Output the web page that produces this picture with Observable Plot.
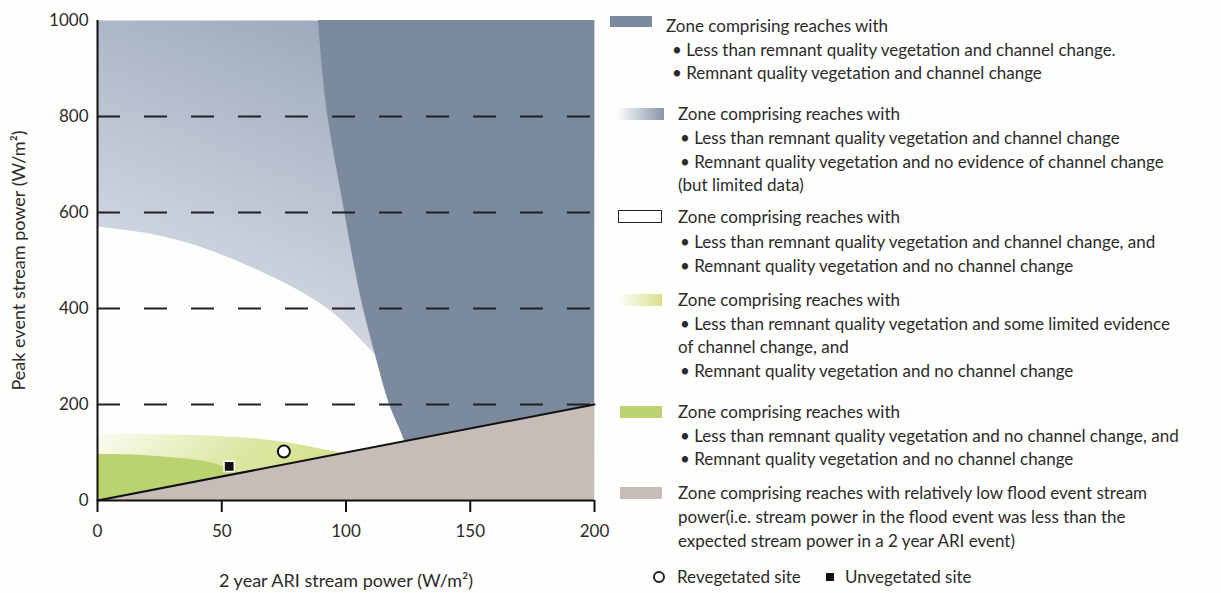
<!DOCTYPE html>
<html>
<head>
<meta charset="utf-8">
<script src="https://cdn.jsdelivr.net/npm/d3@7"></script>
<script src="https://cdn.jsdelivr.net/npm/@observablehq/plot@0.6"></script>
<style>
  html, body { margin: 0; padding: 0; background: #fefefc; }
  #wrap { position: relative; width: 1221px; height: 593px; font-family: Lato, "Open Sans", sans-serif; color: #2b2b2b; }
  #chart { position: absolute; left: 0; top: 0; }
  .lg { position: absolute; font-size: 17px; line-height: 20px; white-space: nowrap; }
  .sw { position: absolute; }
</style>
</head>
<body>
<div id="wrap"><div id="chart"></div><div id="legend"></div></div>
<script>
// ---- data ----
const xTicks = [0, 50, 100, 150, 200];
const yTicks = [0, 200, 400, 600, 800, 1000];
const gridY = [200, 400, 600, 800];
// expected line (peak = 2-year ARI)
const diagX = [0, 200];
const diagY = [0, 200];
// dark zone left boundary: x as a function of y
const darkY = [0, 60, 125, 200, 300, 400, 500, 600, 700, 800, 900, 1000];
const darkX = [131, 127, 123.5, 117.5, 112, 107, 103, 99.5, 96, 92.7, 90.5, 89];
// white zone upper boundary
const whiteX = [0, 20, 40, 60, 80, 95, 105, 115, 125];
const whiteY = [570, 556, 530, 490, 440, 390, 340, 285, 225];
// light yellow-green zone upper boundary
const yellowX = [0, 25, 50, 62, 78, 90, 98, 110];
const yellowY = [138, 137, 133, 129, 119, 107, 99, 88];
// green zone upper boundary
const greenX = [0, 15, 30, 44, 52, 58, 64];
const greenY = [96, 95, 89, 80, 68, 55, 44];
// sites
const revegX = [75], revegY = [102];
const unvegX = [53], unvegY = [71];

const colDark = "#7b8a9c";
const colGreen = "#bad36f";
const colLow = "#c6bcb8";

const darkData = darkY.map((y, i) => ({y, x1: darkX[i], x2: 200}));
const whiteData = whiteX.map((x, i) => ({x, y: whiteY[i]}));
const yellowData = yellowX.map((x, i) => ({x, y: yellowY[i]}));
const greenData = greenX.map((x, i) => ({x, y: greenY[i]}));
const diagData = diagX.map((x, i) => ({x, y: diagY[i]}));

const defsMark = () => {
  const g = d3.create("svg:g");
  const defs = g.append("defs");
  const gb = defs.append("linearGradient").attr("id", "gBlue")
    .attr("x1", 0.15).attr("y1", 0.8).attr("x2", 0.5).attr("y2", 0);
  gb.append("stop").attr("offset", 0).attr("stop-color", "#e8eaf0");
  gb.append("stop").attr("offset", 1).attr("stop-color", "#9ba8bb");
  const gy = defs.append("linearGradient").attr("id", "gYellow")
    .attr("x1", 0).attr("y1", 0).attr("x2", 1).attr("y2", 0.3);
  gy.append("stop").attr("offset", 0).attr("stop-color", "#fbfcf2");
  gy.append("stop").attr("offset", 0.55).attr("stop-color", "#dde7a4");
  gy.append("stop").attr("offset", 1).attr("stop-color", "#d2de88");
  return g.node();
};

const chart = Plot.plot({
  width: 600,
  height: 593,
  marginLeft: 97,
  marginRight: 6,
  marginTop: 20,
  marginBottom: 93,
  x: {domain: [0, 200]},
  y: {domain: [0, 1000]},
  style: {fontFamily: "Lato, 'Open Sans', sans-serif", fontSize: "17px", color: "#2b2b2b", background: "transparent", overflow: "visible"},
  marks: [
    defsMark,
    Plot.frame({fill: "url(#gBlue)", stroke: "none"}),
    Plot.areaY(whiteData, {x: "x", y1: 0, y2: "y", fill: "#fefefc", curve: "catmull-rom"}),
    Plot.areaX(darkData, {y: "y", x1: "x1", x2: "x2", fill: colDark, curve: "catmull-rom"}),
    Plot.areaY(yellowData, {x: "x", y1: 0, y2: "y", fill: "url(#gYellow)", curve: "catmull-rom"}),
    Plot.areaY(greenData, {x: "x", y1: 0, y2: "y", fill: colGreen, curve: "catmull-rom"}),
    Plot.areaY(diagData, {x: "x", y1: 0, y2: "y", fill: colLow}),
    Plot.ruleY(gridY, {stroke: "#1e2228", strokeWidth: 2, strokeDasharray: "23,24"}),
    Plot.line(diagData, {x: "x", y: "y", stroke: "#111", strokeWidth: 2}),
    Plot.ruleX([0], {stroke: "#111", strokeWidth: 2}),
    Plot.ruleY([0], {stroke: "#111", strokeWidth: 2}),
    Plot.axisX({ticks: xTicks, tickFormat: d3.format("d"), tickSize: 12, tickPadding: 12, strokeWidth: 2, stroke: "#111", label: null}),
    Plot.axisX({ticks: [], label: "2 year ARI stream power (W/m²)", labelAnchor: "center", labelArrow: "none", labelOffset: 86, fontSize: 18}),
    Plot.axisY({ticks: yTicks, tickFormat: d3.format("d"), tickSize: 0, tickPadding: 9, label: null}),
    Plot.axisY({ticks: [], label: "Peak event stream power (W/m²)", labelAnchor: "center", labelArrow: "none", labelOffset: 85, fontSize: 18}),
    Plot.dot(unvegX.map((x, i) => ({x, y: unvegY[i]})), {x: "x", y: "y", symbol: "square", r: 5.8, fill: "#111", stroke: "#fff", strokeWidth: 1.5}),
    Plot.dot(revegX.map((x, i) => ({x, y: revegY[i]})), {x: "x", y: "y", symbol: "circle", r: 6, fill: "#fff", stroke: "#111", strokeWidth: 2})
  ]
});
document.getElementById("chart").appendChild(chart);

// ---- legend ----
const legendBlocks = [
  {sw: {x: 610, y: 16, w: 42, h: 11, bg: colDark}, zx: 666, bx: 672,
   lines: [["Zone comprising reaches with", 26, 0], ["• Less than remnant quality vegetation and channel change.", 50, 1], ["• Remnant quality vegetation and channel change", 73, 1]]},
  {sw: {x: 616, y: 108, w: 48, h: 12, bg: "linear-gradient(to right, #ffffff, #8796ab)"}, zx: 678, bx: 680,
   lines: [["Zone comprising reaches with", 114, 0], ["• Less than remnant quality vegetation and channel change", 138, 1], ["• Remnant quality vegetation and no evidence of channel change", 162, 1], ["(but limited data)", 185, 0]]},
  {sw: {x: 618, y: 210, w: 44, h: 13, bg: "#fff", border: "1.5px solid #222"}, zx: 678, bx: 680,
   lines: [["Zone comprising reaches with", 217, 0], ["• Less than remnant quality vegetation and channel change, and", 242, 1], ["• Remnant quality vegetation and no channel change", 266, 1]]},
  {sw: {x: 620, y: 294, w: 42, h: 12, bg: "linear-gradient(to right, #fdfdf5, #d6e08b)"}, zx: 678, bx: 680,
   lines: [["Zone comprising reaches with", 300, 0], ["• Less than remnant quality vegetation and some limited evidence", 324, 1], ["of channel change, and", 347, 0], ["• Remnant quality vegetation and no channel change", 371, 1]]},
  {sw: {x: 620, y: 406, w: 42, h: 12, bg: colGreen}, zx: 678, bx: 680,
   lines: [["Zone comprising reaches with", 412, 0], ["• Less than remnant quality vegetation and no channel change, and", 436, 1], ["• Remnant quality vegetation and no channel change", 459, 1]]},
  {sw: {x: 620, y: 487, w: 42, h: 12, bg: colLow}, zx: 678, bx: 680,
   lines: [["Zone comprising reaches with relatively low flood event stream", 493, 0], ["power(i.e. stream power in the flood event was less than the", 517, 0], ["expected stream power in a 2 year ARI event)", 541, 0]]}
];
const legend = document.getElementById("legend");
for (const b of legendBlocks) {
  const s = document.createElement("div");
  s.className = "sw";
  Object.assign(s.style, {left: b.sw.x + "px", top: b.sw.y + "px", width: b.sw.w + "px", height: b.sw.h + "px", background: b.sw.bg, boxSizing: "border-box"});
  if (b.sw.border) s.style.border = b.sw.border;
  legend.appendChild(s);
  for (const [t, cy, isB] of b.lines) {
    const d = document.createElement("div");
    d.className = "lg";
    d.textContent = t;
    d.style.left = (isB ? b.bx : b.zx) + "px";
    d.style.top = (cy - 10) + "px";
    legend.appendChild(d);
  }
}
// site markers
const mk = [
  {type: "circle", x: 659, label: "Revegetated site", tx: 677},
  {type: "square", x: 830, label: "Unvegetated site", tx: 845}
];
for (const m of mk) {
  const s = document.createElement("div");
  s.className = "sw";
  if (m.type === "circle") {
    Object.assign(s.style, {left: (m.x - 6) + "px", top: "571px", width: "12px", height: "12px", borderRadius: "50%", border: "2px solid #222", background: "#fff", boxSizing: "border-box"});
  } else {
    Object.assign(s.style, {left: (m.x - 4) + "px", top: "573px", width: "8px", height: "8px", background: "#111"});
  }
  legend.appendChild(s);
  const d = document.createElement("div");
  d.className = "lg";
  d.textContent = m.label;
  d.style.left = m.tx + "px";
  d.style.top = "567px";
  legend.appendChild(d);
}
</script>
</body>
</html>
